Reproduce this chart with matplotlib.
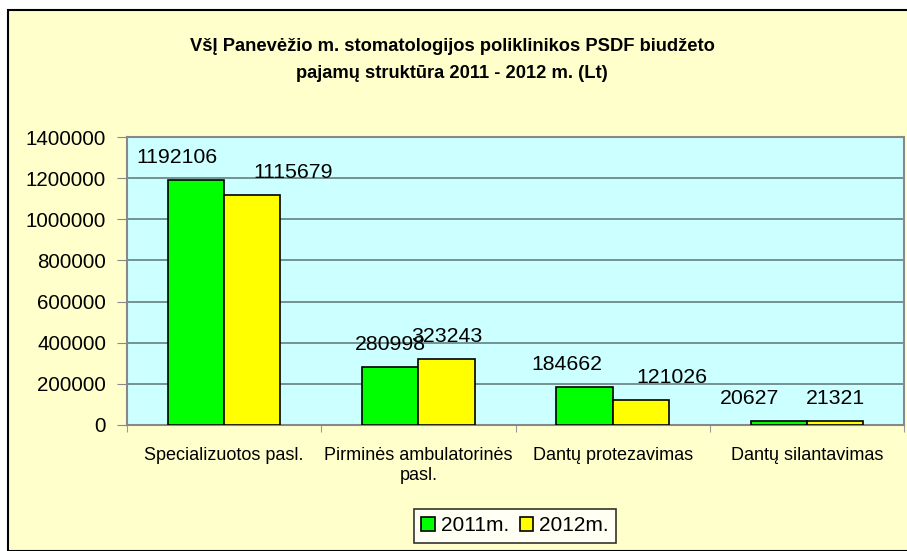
import matplotlib.pyplot as plt
import numpy as np
from matplotlib.patches import Rectangle

plt.rcParams['font.family'] = ['Liberation Sans', 'DejaVu Sans']

categories = ['Specializuotos pasl.', 'Pirminės ambulatorinės\npasl.',
              'Dantų protezavimas', 'Dantų silantavimas']
years = ['2011m.', '2012m.']
values_2011 = [1192106, 280998, 184662, 20627]
values_2012 = [1115679, 323243, 121026, 21321]
yticks = [0, 200000, 400000, 600000, 800000, 1000000, 1200000, 1400000]

title = 'VšĮ Panevėžio m. stomatologijos poliklinikos PSDF biudžeto\npajamų struktūra 2011 - 2012 m. (Lt)'

# label shifts (pixels) to mimic the original label placement
shift_2011 = [-19, 0, -18, -29]
shift_2012 = [41, 0, 31, 0]

fig = plt.figure(figsize=(9.07, 5.51), dpi=100, facecolor='white')
fig.patches.append(Rectangle((8 / 907, 0), 1.0, (551 - 10) / 551,
                             transform=fig.transFigure, facecolor='#FFFFCC',
                             edgecolor='black', lw=1.5, zorder=-10))

ax = fig.add_axes([127 / 907, (551 - 425) / 551, (904 - 127) / 907, (425 - 137) / 551])
ax.set_facecolor('#CCFFFF')

x = np.arange(len(categories))
w = 0.29
b1 = ax.bar(x - w / 2, values_2011, w, color='#00FF00', edgecolor='black', lw=1.2,
            label=years[0], zorder=3)
b2 = ax.bar(x + w / 2, values_2012, w, color='#FFFF00', edgecolor='black', lw=1.2,
            label=years[1], zorder=3)

for bars, vals, shifts in [(b1, values_2011, shift_2011), (b2, values_2012, shift_2012)]:
    for r, v, s in zip(bars, vals, shifts):
        ax.annotate(str(v), (r.get_x() + r.get_width() / 2, v),
                    xytext=(s, 17), textcoords='offset pixels',
                    ha='center', va='baseline', fontsize=15.3, zorder=5)

ax.set_ylim(0, 1400000)
ax.set_xlim(-0.5, len(categories) - 0.5)
ax.set_yticks(yticks)
ax.set_yticklabels([str(t) for t in yticks], fontsize=14.8)
ax.yaxis.grid(True, color='#667f7f', lw=1.2)
ax.set_axisbelow(True)

ax.set_xticks(np.arange(len(categories) + 1) - 0.5)
ax.set_xticklabels([])
ax.set_xticks(x, minor=True)
ax.set_xticklabels(categories, minor=True, fontsize=13)
ax.tick_params(axis='x', which='minor', length=0, pad=16)
ax.tick_params(axis='x', which='major', length=5, color='#999999')
ax.tick_params(axis='y', length=7, pad=8, color='#888888')

for sp in ax.spines.values():
    sp.set_color('#888888')
    sp.set_linewidth(1.5)

fig.text(452 / 907, 1 - 60 / 551, title, ha='center', va='center',
         fontsize=13.2, fontweight='bold', linespacing=1.7)

leg = fig.legend(loc='lower center', bbox_to_anchor=(515 / 907, -2 / 551), ncol=2,
                 fontsize=15, frameon=True, fancybox=False, edgecolor='black',
                 handlelength=0.65, handleheight=0.65, handletextpad=0.3,
                 columnspacing=0.5, borderpad=0.35)
leg.get_frame().set_linewidth(1.2)

fig.savefig('out.png', dpi=100, facecolor=fig.get_facecolor())
